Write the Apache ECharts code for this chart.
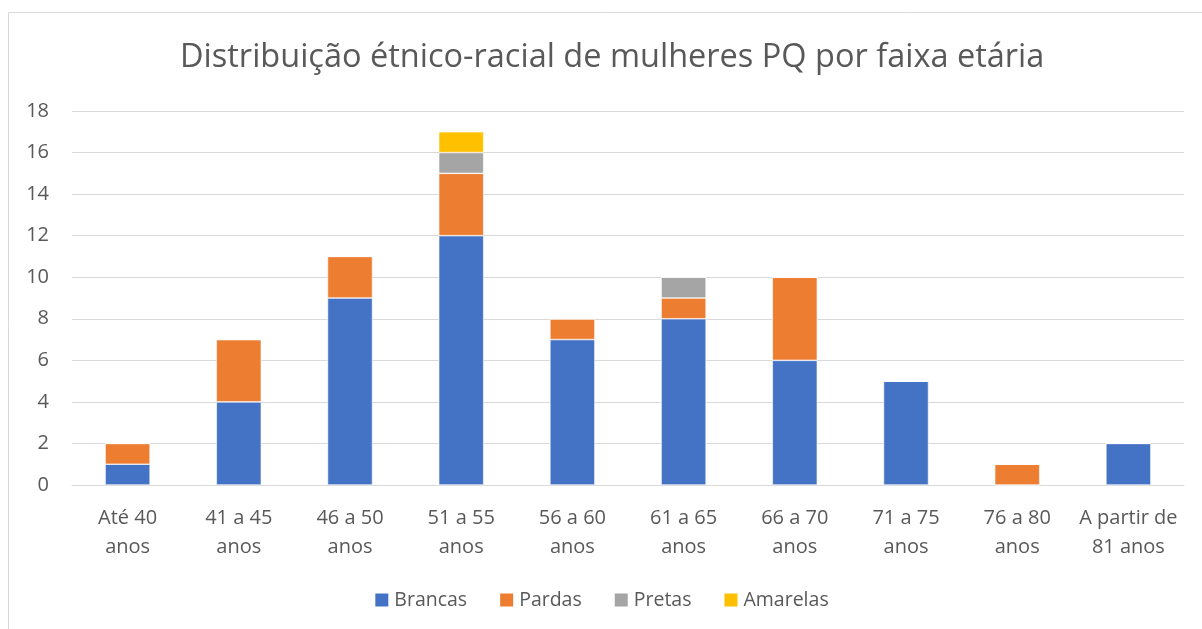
<!DOCTYPE html>
<html>
<head>
<meta charset="utf-8">
<script src="https://cdn.jsdelivr.net/npm/echarts@6/dist/echarts.min.js"></script>
<style>
  html, body { margin: 0; padding: 0; background: #fff; }
  #chart { width: 1202px; height: 629px; }
</style>
</head>
<body>
<div id="chart"></div>
<script>
// faixas etárias
var faixas = ['Até 40\nanos', '41 a 45\nanos', '46 a 50\nanos', '51 a 55\nanos', '56 a 60\nanos',
	'61 a 65\nanos', '66 a 70\nanos', '71 a 75\nanos', '76 a 80\nanos', 'A partir de\n81 anos'];

var brancas  = [1, 4, 9, 12, 7, 8, 6, 5, 0, 2];
var pardas   = [1, 3, 2, 3, 1, 1, 4, 0, 1, 0];
var pretas   = [0, 0, 0, 1, 0, 1, 0, 0, 0, 0];
var amarelas = [0, 0, 0, 1, 0, 0, 0, 0, 0, 0];

var fonte = '"Open Sans", "Noto Sans", sans-serif';
var cinza = '#595959';

function serie(nome, dados, cor) {
	return {
		name: nome,
		type: 'bar',
		stack: 'total',
		barWidth: 45,
		data: dados,
		itemStyle: { color: cor, borderColor: '#fff', borderWidth: 0.6 }
	};
}

var chart = echarts.init(document.getElementById('chart'));

chart.setOption({
	animation: false,
	textStyle: { fontFamily: fonte },
	graphic: [{
		type: 'rect',
		shape: { x: 8.5, y: 12.5, width: 1200, height: 630 },
		style: { fill: null, stroke: '#d9d9d9', lineWidth: 1 }
	}],
	title: {
		text: 'Distribuição étnico-racial de mulheres PQ por faixa etária',
		left: 175,
		top: 36,
		textStyle: { fontFamily: fonte, fontSize: 32.5, fontWeight: 'normal', color: cinza }
	},
	legend: {
		bottom: 14,
		left: 'center',
		itemWidth: 15,
		itemHeight: 15,
		itemGap: 31,
		icon: 'rect',
		textStyle: { fontFamily: fonte, fontSize: 19.5, color: cinza },
		data: ['Brancas', 'Pardas', 'Pretas', 'Amarelas']
	},
	grid: {
		left: 72,
		right: 18,
		top: 111,
		bottom: 144
	},
	xAxis: {
		type: 'category',
		data: faixas,
		axisTick: { show: false },
		axisLine: { lineStyle: { color: '#d9d9d9', width: 1 } },
		axisLabel: { fontFamily: fonte, fontSize: 20, color: cinza, margin: 19, lineHeight: 29, interval: 0 }
	},
	yAxis: {
		type: 'value',
		min: 0,
		max: 18,
		interval: 2,
		axisLine: { show: false },
		axisTick: { show: false },
		splitLine: { lineStyle: { color: '#d9d9d9', width: 1 } },
		axisLabel: { fontFamily: fonte, fontSize: 20, color: cinza, margin: 23 }
	},
	series: [
		serie('Brancas', brancas, '#4472c4'),
		serie('Pardas', pardas, '#ed7d31'),
		serie('Pretas', pretas, '#a5a5a5'),
		serie('Amarelas', amarelas, '#ffc000')
	]
});
</script>
</body>
</html>
